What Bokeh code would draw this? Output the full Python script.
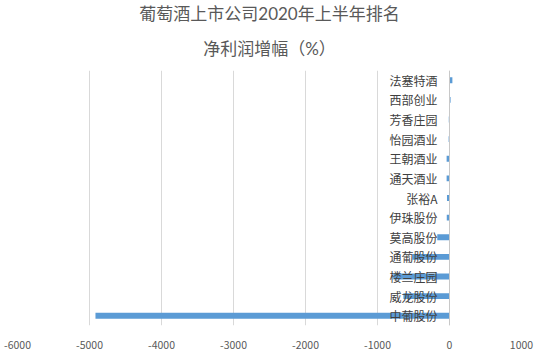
from bokeh.plotting import figure
from bokeh.models import Title, Span, FixedTicker, ColumnDataSource, CustomJSTickFormatter
from bokeh.core.properties import value
from bokeh.embed import file_html
from bokeh.resources import INLINE

companies = ["法塞特酒", "西部创业", "芳香庄园", "怡园酒业", "王朝酒业", "通天酒业", "张裕A",
             "伊珠股份", "莫高股份", "通葡股份", "楼兰庄园", "威龙股份", "中葡股份"]
growth = [40, 15, -10, -12, -40, -40, -35, -38, -170, -515, -780, -640, -4917]
x_ticks = [-6000, -5000, -4000, -3000, -2000, -1000, 0, 1000]
title_lines = ["葡萄酒上市公司2020年上半年排名", "净利润增幅（%）"]

FONT = "Noto Sans CJK SC"
TITLE_FONT = "Lato, 'Noto Sans CJK SC'"

src = ColumnDataSource(dict(company=companies, growth=growth, zero=[0] * len(companies)))

p = figure(width=535, height=352, output_backend="svg", toolbar_location=None,
           y_range=list(reversed(companies)), x_range=(-6000, 1000),
           min_border_left=17, min_border_right=14, min_border_bottom=27, min_border_top=10)
p.outline_line_color = None
p.background_fill_color = "white"
p.border_fill_color = "white"

p.hbar(y="company", left="zero", right="growth", height=0.3, source=src,
       color="#5B9BD5", line_color=None)

p.text(x="zero", y="company", text="company", source=src, x_offset=-12,
       text_align="right", text_baseline="middle", text_font=value(FONT),
       text_font_size="12px", text_color="#404040")

p.add_layout(Span(location=0, dimension="height", line_color="#c8c8c8", line_width=1))

p.yaxis.visible = False
p.ygrid.grid_line_color = None
p.xgrid.grid_line_color = "#d9d9d9"
p.xaxis.ticker = FixedTicker(ticks=x_ticks)
p.xaxis.formatter = CustomJSTickFormatter(code="return String(tick);")
p.xaxis.axis_line_color = None
p.xaxis.major_tick_line_color = None
p.xaxis.minor_tick_line_color = None
p.xaxis.major_label_standoff = 9
p.xaxis.major_label_text_font = FONT
p.xaxis.major_label_text_font_size = "10.5px"
p.xaxis.major_label_text_color = "#595959"

p.add_layout(Title(text=title_lines[1], align="center", text_font=TITLE_FONT,
                   text_font_size="17px", text_font_style="normal",
                   text_color="#595959", standoff=24), "above")
p.add_layout(Title(text=title_lines[0], align="center", text_font=TITLE_FONT,
                   text_font_size="17px", text_font_style="normal",
                   text_color="#595959", standoff=0), "above")

open("out.html", "w").write(file_html(p, INLINE))
